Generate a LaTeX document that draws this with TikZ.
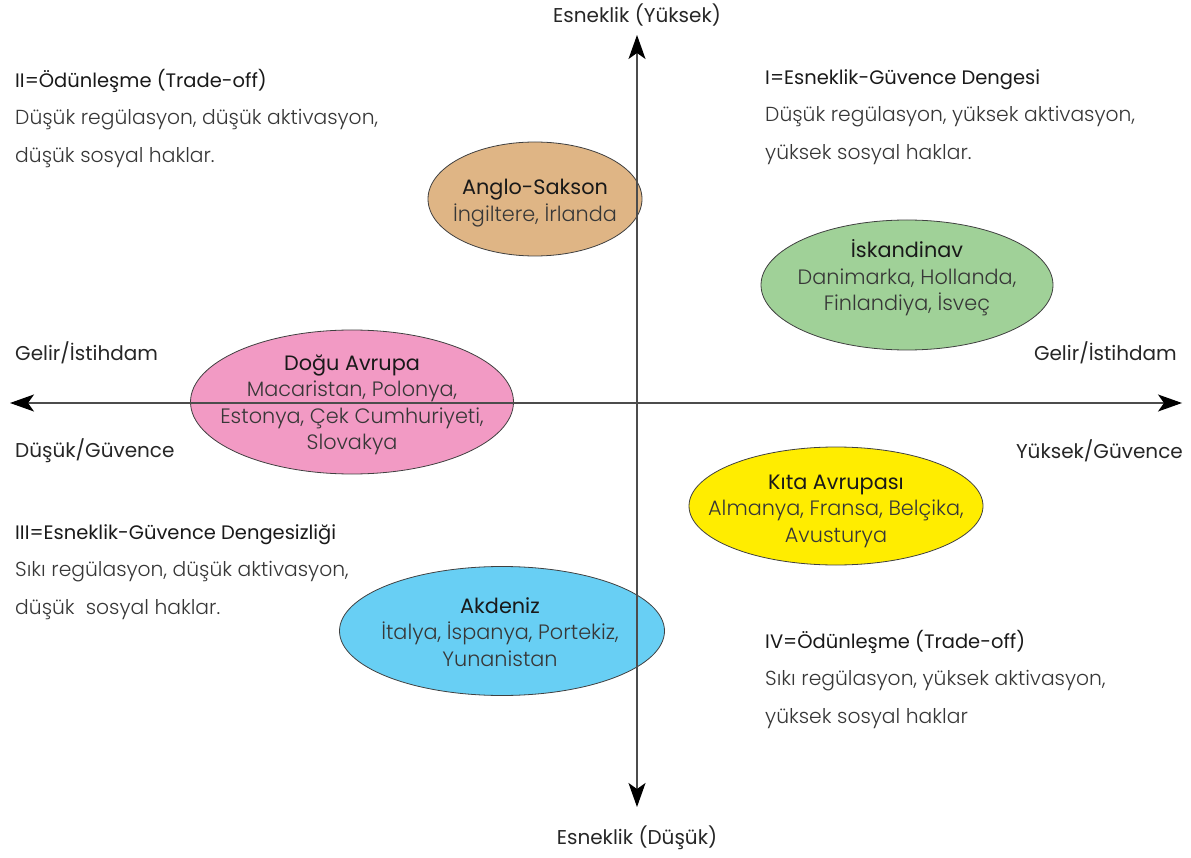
\documentclass[tikz,border=0pt]{standalone}
\usepackage{fontspec}
\setmainfont{Poppins Light}
\newfontfamily\titlefont{Poppins}
\usetikzlibrary{shapes.geometric,arrows.meta}
\definecolor{tan}{RGB}{223,181,133}
\definecolor{grn}{RGB}{160,209,152}
\definecolor{pnk}{RGB}{242,154,196}
\definecolor{yel}{RGB}{255,237,0}
\definecolor{blu}{RGB}{104,207,244}
\definecolor{txt}{RGB}{55,55,55}
\tikzset{
  region/.style={ellipse, draw=black!75, line width=0.8pt, inner sep=0pt},
  etext/.style={align=center, font=\fontsize{20.8}{26.5}\selectfont, text=txt},
  corner/.style={anchor=north west, align=left, inner sep=0pt, font=\fontsize{20.3}{37.5}\selectfont, text=txt},
  lbl/.style={inner sep=0pt, font=\fontsize{20}{22}\selectfont, text=black!85},
  axis/.style={line width=1.3pt, draw=black!70, {Stealth[length=24pt,width=17pt,inset=6pt,black]}-{Stealth[length=24pt,width=17pt,inset=6pt,black]}},
}
\newcommand{\ttl}[1]{{\titlefont\fontsize{19.5}{20}\selectfont\color{black!90}#1}}
\newcommand{\ett}[1]{{\titlefont\color{black!90}#1}}
\begin{document}
\begin{tikzpicture}[x=1pt,y=-1pt]
\useasboundingbox (0,0) rectangle (1191,858);
% ellipses
\node[region, fill=tan, minimum width=214pt, minimum height=114pt] (anglo) at (535,199) {};
\node[region, fill=grn, minimum width=292pt, minimum height=130pt] (skan) at (907,285) {};
\node[region, fill=pnk, minimum width=323pt, minimum height=144pt] (dogu) at (352,402) {};
\node[region, fill=yel, minimum width=294pt, minimum height=118pt] (kita) at (836,506) {};
\node[region, fill=blu, minimum width=325pt, minimum height=129pt] (akd) at (502,631) {};
% axes
\coordinate (L) at (10,403);
\coordinate (R) at (1182,403);
\coordinate (T) at (637,35);
\coordinate (B) at (637,807);
\draw[axis] (L) -- (R);
\draw[axis] (B) -- (T);
% ellipse texts
\node[etext] (angloT) at (535,203) {\ett{Anglo-Sakson}\\İngiltere, İrlanda};
\node[etext] (skanT) at (907,278) {\ett{İskandinav}\\Danimarka, Hollanda,\\Finlandiya, İsveç};
\node[etext] (doguT) at (352,405) {\ett{Doğu Avrupa}\\Macaristan, Polonya,\\Estonya, Çek Cumhuriyeti,\\Slovakya};
\node[etext] (kitaT) at (836,511) {\ett{Kıta Avrupası}\\Almanya, Fransa, Belçika,\\Avusturya};
\node[etext] (akdT) at (500,632) {\ett{Akdeniz}\\İtalya, İspanya, Portekiz,\\Yunanistan};
% corner texts
\node[corner] (q2) at (15,69) {\ttl{II=Ödünleşme (Trade-off)}\\Düşük regülasyon, düşük aktivasyon,\\düşük sosyal haklar.};
\node[corner] (q1) at (765,69) {\ttl{I=Esneklik-Güvence Dengesi}\\Düşük regülasyon, yüksek aktivasyon,\\yüksek sosyal haklar.};
\node[corner] (q3) at (15,524) {\ttl{III=Esneklik-Güvence Dengesizliği}\\Sıkı regülasyon, düşük aktivasyon,\\düşük \ sosyal haklar.};
\node[corner] (q4) at (765,630) {\ttl{IV=Ödünleşme (Trade-off)}\\Sıkı regülasyon, yüksek aktivasyon,\\yüksek sosyal haklar};
% axis labels
\node[lbl] (top) at (637,15) {\titlefont Esneklik (Yüksek)};
\node[lbl] (bot) at (637,838) {\titlefont Esneklik (Düşük)};
\node[lbl, anchor=west] (gl) at (15,353) {\titlefont Gelir/İstihdam};
\node[lbl, anchor=east] (gr) at (1177,353) {\titlefont Gelir/İstihdam};
\node[lbl, anchor=west] (dl) at (15,451) {\titlefont Düşük/Güvence};
\node[lbl, anchor=east] (yr) at (1183,451) {\titlefont Yüksek/Güvence};
\end{tikzpicture}
\end{document}
